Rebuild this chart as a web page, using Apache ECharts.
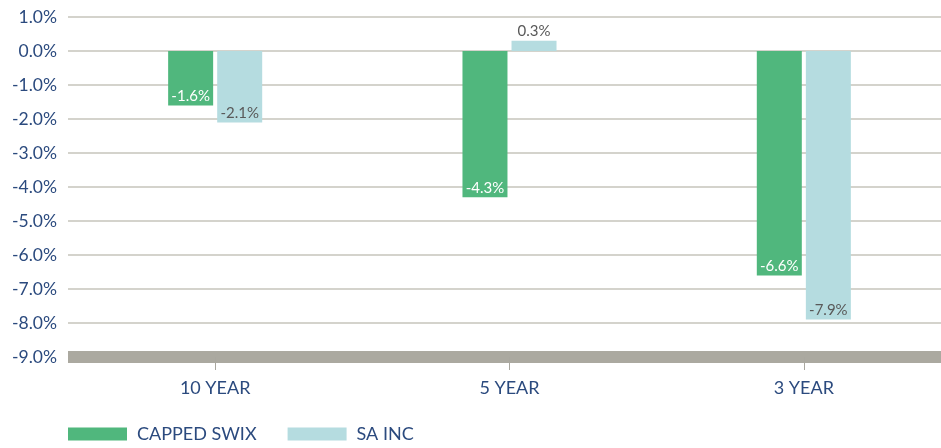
<!DOCTYPE html>
<html lang="en">
<head>
    <meta charset="UTF-8">
    <title>Returns</title>
    <script src="https://cdn.jsdelivr.net/npm/echarts@6/dist/echarts.min.js"></script>
    <style>
        html, body { margin: 0; padding: 0; background: #fff; }
    </style>
</head>
<body>
<div id="my" style="width: 941px;height: 448px;"></div>
<script>
    var categories = ['10 YEAR', '5 YEAR', '3 YEAR']
    var cappedSwix = [-1.6, -4.3, -6.6]
    var saInc = [-2.1, 0.3, -7.9]
    var seriesNames = ['CAPPED SWIX', 'SA INC']

    // negative bars get label at the bar end, positive ones above
    function withLabels(arr, color) {
        return arr.map(function (v) {
            return {
                value: v,
                label: {
                    position: v < 0 ? 'insideBottom' : 'top',
                    color: v < 0 ? color : '#595959'
                }
            }
        })
    }

    var mCharts = echarts.init(document.getElementById('my'))
    var option = {
        animation: false,
        textStyle: { fontFamily: 'Lato' },
        // plot runs a little past the right edge of the picture
        grid: { left: 68, width: 883, top: 17, height: 340, outerBoundsMode: 'none' },
        legend: {
            left: 68,
            bottom: 5,
            padding: 0,
            icon: 'rect',
            itemWidth: 59,
            itemHeight: 13,
            itemGap: 31,
            textStyle: { color: '#2b4a7e', fontSize: 18, fontFamily: 'Lato', padding: [0, 0, 0, 5] },
            data: seriesNames
        },
        xAxis: {
            type: 'category',
            data: categories,
            axisLine: { onZero: false, lineStyle: { color: '#aba9a0', width: 12, cap: 'butt' } },
            axisTick: {
                show: true,
                interval: 0,
                alignWithLabel: true,
                length: 13,
                lineStyle: { color: '#a9a79f', width: 1 }
            },
            axisLabel: { color: '#2b4a7e', fontSize: 18, margin: 22 }
        },
        yAxis: {
            type: 'value',
            min: -9,
            max: 1,
            interval: 1,
            axisLine: { show: false },
            axisTick: { show: false },
            axisLabel: {
                color: '#2b4a7e',
                fontSize: 17.5,
                margin: 11,
                formatter: function (v) { return v.toFixed(1) + '%' }
            },
            splitLine: { lineStyle: { color: '#d4d3cc', width: 2 } }
        },
        series: [
            {
                name: seriesNames[0],
                type: 'bar',
                data: withLabels(cappedSwix, '#ffffff'),
                barWidth: 45,
                barGap: '9%',
                itemStyle: { color: '#50b77d' },
                label: {
                    show: true,
                    fontSize: 15,
                    distance: 2,
                    formatter: function (p) { return p.value.toFixed(1) + '%' }
                }
            },
            {
                name: seriesNames[1],
                type: 'bar',
                data: withLabels(saInc, '#595959'),
                barWidth: 45,
                itemStyle: { color: '#b5dce0' },
                label: {
                    show: true,
                    fontSize: 15,
                    distance: 2,
                    formatter: function (p) { return p.value.toFixed(1) + '%' }
                }
            }
        ]
    }
    mCharts.setOption(option)
</script>
</body>
</html>
